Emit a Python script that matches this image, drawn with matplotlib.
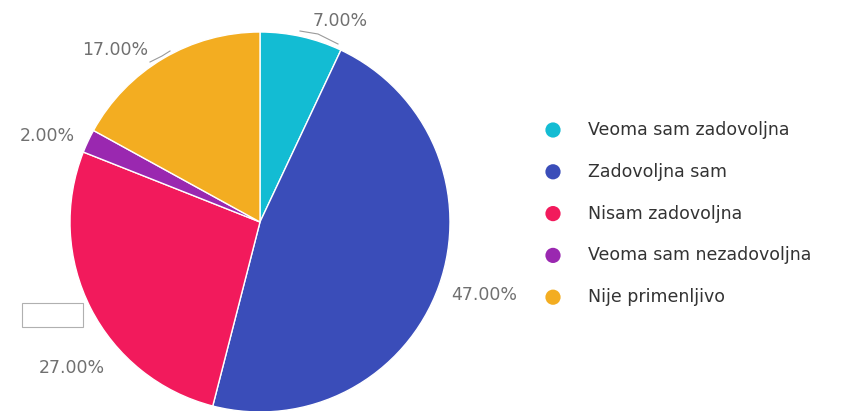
import matplotlib
matplotlib.use("Agg")
import matplotlib.pyplot as plt
from matplotlib.patches import Rectangle

# answer categories and their shares (%)
labels = ["Veoma sam zadovoljna", "Zadovoljna sam", "Nisam zadovoljna",
          "Veoma sam nezadovoljna", "Nije primenljivo"]
shares = [7, 47, 27, 2, 17]
colors = ["#13bcd3", "#3a4db9", "#f21a5c", "#9a28b0", "#f3ad21"]

W, H = 858, 411
fig = plt.figure(figsize=(W / 100, H / 100), dpi=100)
ax = fig.add_axes([0, 0, 1, 1])

def py(y):
    # convert from top-based pixel row
    return H - y

cx, cy, r = 260, 222, 190
ax.pie(shares, colors=colors, startangle=90, counterclock=False,
       center=(cx, py(cy)), radius=r, frame=True,
       wedgeprops=dict(edgecolor="white", linewidth=1))
ax.set_xlim(0, W)
ax.set_ylim(0, H)
ax.set_aspect("equal")
ax.axis("off")

# value labels around the pie
label_pos = [(340, 21), (484, 295), (72, 368), (47, 136), (115, 50)]
for v, (x, y) in zip(shares, label_pos):
    ax.text(x, py(y), f"{v:.2f}%", ha="center", va="center",
            fontsize=12.5, color="#707070", family="DejaVu Sans")

# leader lines
ax.plot([300, 318, 338], [py(31), py(34), py(44)], color="#9a9a9a", lw=0.8)
ax.plot([150, 162, 170], [py(62), py(56), py(51)], color="#9a9a9a", lw=0.8)

# stray empty box
ax.add_patch(Rectangle((22, py(327)), 61, 24, fill=False,
                       edgecolor="#b0b0b0", lw=0.8))

# legend
for i, (lab, c) in enumerate(zip(labels, colors)):
    y = 130 + i * 41.8
    ax.scatter(553, py(y), s=120, color=c, edgecolors="none")
    ax.text(588, py(y), lab, ha="left", va="center", fontsize=12.5,
            color="#333333", family="DejaVu Sans")

fig.savefig("out.png", dpi=100)
